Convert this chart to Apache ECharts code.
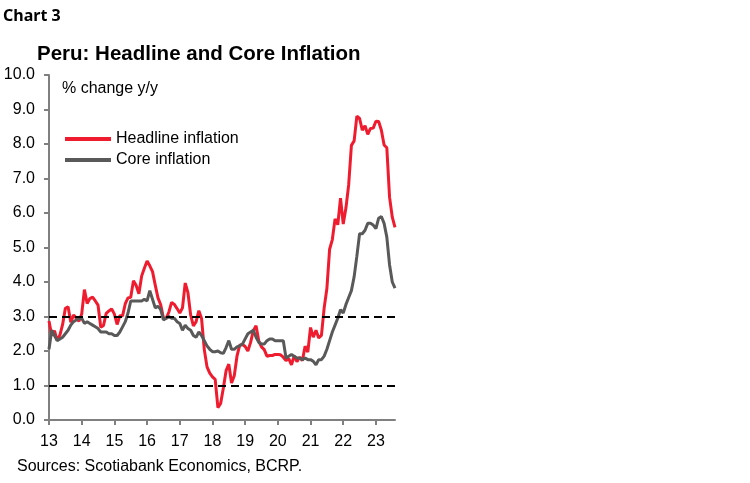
<!DOCTYPE html>
<html>
<head>
<meta charset="utf-8">
<script src="https://cdn.jsdelivr.net/npm/echarts@6/dist/echarts.min.js"></script>
<style>html,body{margin:0;padding:0;background:#fff}#c{width:750px;height:483px}</style>
</head>
<body>
<div id="c"></div>
<script>
// Monthly, Jan 2013 - Aug 2023
var startYear = 2013;
var headline = [
  2.87,2.45,2.59,2.31,2.46,2.77,3.24,3.28,2.83,3.04,2.96,2.86,
  3.07,3.78,3.38,3.52,3.56,3.45,3.33,2.69,2.74,3.09,3.16,3.22,
  3.07,2.77,3.02,3.02,3.37,3.54,3.56,4.04,3.90,3.66,4.17,4.40,
  4.61,4.47,4.30,3.91,3.54,3.34,2.96,2.94,3.13,3.41,3.35,3.23,
  3.10,3.25,3.97,3.69,3.04,2.73,2.85,3.17,2.94,2.04,1.54,1.36,
  1.25,1.18,0.36,0.48,0.93,1.43,1.62,1.07,1.28,1.85,2.17,2.19,
  2.13,2.00,2.25,2.59,2.73,2.29,2.12,2.04,1.85,1.87,1.87,1.90,
  1.90,1.89,1.82,1.72,1.78,1.60,1.86,1.69,1.82,1.72,2.14,1.97,
  2.68,2.40,2.60,2.38,2.45,3.25,3.81,4.95,5.23,5.83,5.66,6.43,
  5.68,6.15,6.82,7.96,8.09,8.81,8.74,8.40,8.53,8.28,8.45,8.46,
  8.66,8.65,8.40,7.97,7.89,6.46,5.88,5.58
];
var core = [
  2.05,2.60,2.45,2.30,2.35,2.40,2.50,2.60,2.75,2.85,2.90,2.95,
  2.95,2.80,2.85,2.80,2.75,2.70,2.65,2.55,2.55,2.55,2.50,2.50,
  2.45,2.45,2.55,2.70,2.85,3.10,3.45,3.45,3.45,3.45,3.45,3.50,
  3.45,3.75,3.50,3.25,3.30,3.20,2.90,2.95,3.00,2.95,2.95,2.85,
  2.80,2.60,2.75,2.65,2.60,2.45,2.40,2.55,2.45,2.30,2.15,2.05,
  1.98,1.98,2.00,1.95,1.93,2.10,2.30,2.05,2.05,2.12,2.15,2.20,
  2.35,2.50,2.55,2.60,2.40,2.25,2.20,2.20,2.30,2.35,2.35,2.30,
  2.30,2.30,2.30,1.80,1.85,1.90,1.85,1.80,1.80,1.75,1.80,1.75,
  1.75,1.70,1.60,1.75,1.75,1.85,2.05,2.30,2.55,2.75,2.95,3.20,
  3.10,3.35,3.55,3.75,4.15,4.75,5.40,5.40,5.50,5.70,5.70,5.65,
  5.55,5.85,5.90,5.70,5.30,4.50,4.00,3.82
];
var refLines = [3.0, 1.0];
var yTicks = [0,1,2,3,4,5,6,7,8,9,10];

var months = [];
for (var i = 0; i < headline.length; i++) {
  var y = startYear + Math.floor(i / 12), m = i % 12 + 1;
  months.push(y + '-' + (m < 10 ? '0' + m : m));
}
function yearTick(idx) { return idx % 12 === 0; }

var font = 'Liberation Sans, Arial, sans-serif';
var chart = echarts.init(document.getElementById('c'));
chart.setOption({
  animation: false,
  backgroundColor: '#fff',
  grid: { left: 49, right: 355, top: 75, bottom: 63 },
  title: [
    { text: 'Chart 3', left: 3, top: 8, padding: 0, textStyle: { fontFamily: 'Noto Sans, sans-serif', fontWeight: 'bold', fontSize: 16, color: '#000' } },
    { text: 'Peru: Headline and Core Inflation', left: 37, top: 44, padding: 0, textStyle: { fontFamily: font, fontWeight: 'bold', fontSize: 20.5, color: '#000' } },
    { text: '% change y/y', left: 62, top: 81, padding: 0, textStyle: { fontFamily: font, fontWeight: 'normal', fontSize: 16, color: '#000' } },
    { text: 'Sources: Scotiabank Economics, BCRP.', left: 17, top: 459, padding: 0, textStyle: { fontFamily: font, fontWeight: 'normal', fontSize: 16, color: '#000' } }
  ],
  legend: {
    orient: 'vertical', left: 65, top: 131, itemGap: 5, padding: 0,
    itemWidth: 46, itemHeight: 4, icon: 'rect',
    textStyle: { fontFamily: font, fontSize: 16, color: '#000', lineHeight: 16 },
    data: ['Headline inflation', 'Core inflation']
  },
  xAxis: {
    type: 'category', data: months, boundaryGap: false,
    axisLine: { lineStyle: { color: '#808080', width: 2 } },
    axisTick: { interval: function (i) { return yearTick(i); }, length: 5, lineStyle: { color: '#808080', width: 2 } },
    axisLabel: {
      interval: function (i) { return yearTick(i); },
      formatter: function (v) { return v.slice(2, 4); },
      fontFamily: font, fontSize: 16, color: '#000', margin: 14
    },
    splitLine: { show: false }
  },
  yAxis: {
    type: 'value', min: 0, max: 10, interval: 1,
    axisLine: { show: true, lineStyle: { color: '#808080', width: 2 } },
    axisTick: { show: true, length: 5, lineStyle: { color: '#808080', width: 2 } },
    axisLabel: { formatter: function (v) { return v.toFixed(1); }, fontFamily: font, fontSize: 16, color: '#000', margin: 14 },
    splitLine: { show: false }
  },
  series: [
    { name: 'Headline inflation', type: 'line', data: headline, showSymbol: false, symbol: 'none',
      lineStyle: { color: '#ee1c2e', width: 3 }, itemStyle: { color: '#ee1c2e' }, z: 2 },
    { name: 'Core inflation', type: 'line', data: core, showSymbol: false, symbol: 'none',
      lineStyle: { color: '#595959', width: 3 }, itemStyle: { color: '#595959' }, z: 3 },
    { name: 'ref', type: 'line', data: [], z: 5,
      markLine: { silent: true, symbol: 'none', label: { show: false },
        lineStyle: { color: '#000', type: [8, 5], width: 2 },
        data: refLines.map(function (v) { return { yAxis: v }; }) } }
  ]
});
</script>
</body>
</html>
